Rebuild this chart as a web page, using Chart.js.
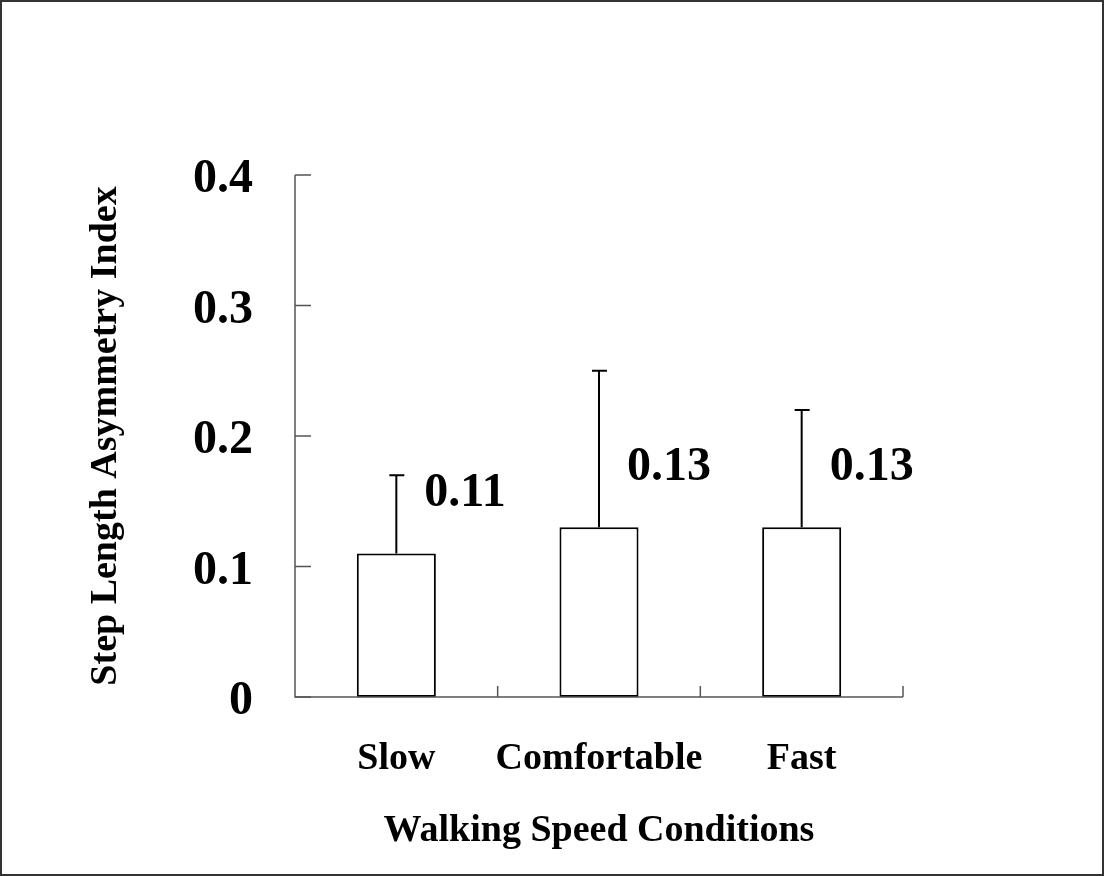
<!DOCTYPE html>
<html>
<head>
<meta charset="utf-8">
<script src="https://cdn.jsdelivr.net/npm/chart.js@4/dist/chart.umd.min.js"></script>
<style>
  html, body { margin: 0; padding: 0; background: #fff; }
  #c { display: block; }
</style>
</head>
<body>
<canvas id="c" width="1104" height="876"></canvas>
<script>
const categories = ['Slow', 'Comfortable', 'Fast'];
const meanValues = [0.11, 0.13, 0.13];
const errorTops = [0.17, 0.25, 0.22];
const yTickValues = [0, 0.1, 0.2, 0.3, 0.4];

const FONT = '"Liberation Serif", "Times New Roman", serif';

const decorPlugin = {
  id: 'decor',
  afterDatasetsDraw(chart) {
    const ctx = chart.ctx;
    const xs = chart.scales.x, ys = chart.scales.y;
    const area = chart.chartArea;
    const meta = chart.getDatasetMeta(0);
    ctx.save();
    // axes
    ctx.strokeStyle = '#555';
    ctx.lineWidth = 1.5;
    ctx.beginPath();
    ctx.moveTo(area.left, ys.getPixelForValue(0.4));
    ctx.lineTo(area.left, ys.getPixelForValue(0));
    ctx.lineTo(area.right, ys.getPixelForValue(0));
    ctx.stroke();
    // y ticks (inward)
    ctx.beginPath();
    yTickValues.forEach(v => {
      const y = ys.getPixelForValue(v);
      ctx.moveTo(area.left, y);
      ctx.lineTo(area.left + 16, y);
    });
    // x ticks (inward) at category boundaries
    const y0 = ys.getPixelForValue(0);
    for (let i = 0; i < categories.length; i++) {
      const x = (xs.getPixelForValue(i) + (i + 1 < categories.length ? xs.getPixelForValue(i + 1) : xs.getPixelForValue(i) * 2 - xs.getPixelForValue(i - 1))) / 2;
      ctx.moveTo(x, y0);
      ctx.lineTo(x, y0 - 11);
    }
    ctx.stroke();

    // error bars
    ctx.strokeStyle = '#000';
    ctx.lineWidth = 2;
    meta.data.forEach((bar, i) => {
      const x = bar.x;
      const yTop = ys.getPixelForValue(errorTops[i]);
      ctx.beginPath();
      ctx.moveTo(x, bar.y);
      ctx.lineTo(x, yTop);
      ctx.moveTo(x - 7, yTop);
      ctx.lineTo(x + 8, yTop);
      ctx.stroke();
    });

    // value labels
    ctx.fillStyle = '#000';
    ctx.font = 'bold 48px ' + FONT;
    ctx.textAlign = 'left';
    ctx.textBaseline = 'middle';
    meta.data.forEach((bar, i) => {
      ctx.fillText(meanValues[i].toFixed(2), bar.x + 28, bar.y - 60);
    });

    // outer frame
    ctx.strokeStyle = '#333';
    ctx.lineWidth = 2;
    ctx.strokeRect(1, 1, chart.width - 2, chart.height - 2);
    ctx.restore();
  }
};

new Chart(document.getElementById('c'), {
  type: 'bar',
  data: {
    labels: categories,
    datasets: [{
      data: meanValues,
      backgroundColor: '#ffffff',
      borderColor: '#000000',
      borderWidth: 2,
      borderSkipped: false,
      barPercentage: 0.39,
      categoryPercentage: 1.0
    }]
  },
  options: {
    responsive: false,
    animation: false,
    devicePixelRatio: 1,
    layout: { padding: { left: 0, top: 175, right: 201, bottom: 0 } },
    plugins: { legend: { display: false }, tooltip: { enabled: false } },
    scales: {
      x: {
        type: 'category',
        offset: true,
        grid: { display: false, drawTicks: false },
        border: { display: false },
        ticks: {
          color: '#000',
          padding: 39,
          autoSkip: false,
          maxRotation: 0,
          minRotation: 0,
          font: { family: FONT, size: 38, weight: 'bold' }
        },
        title: {
          display: true,
          text: 'Walking Speed Conditions',
          color: '#000',
          font: { family: FONT, size: 38, weight: 'bold' },
          padding: { top: 0, bottom: 22 }
        },
        afterFit(scale) { scale.height = 179; }
      },
      y: {
        min: 0,
        max: 0.4,
        grid: { display: false, drawTicks: false },
        border: { display: false },
        afterBuildTicks(scale) { scale.ticks = yTickValues.map(v => ({ value: v })); },
        ticks: {
          color: '#000',
          padding: 42,
          labelOffset: 5,
          font: { family: FONT, size: 48, weight: 'bold' },
          callback: v => (v === 0 ? '0' : v.toFixed(1))
        },
        title: {
          display: true,
          text: 'Step Length Asymmetry Index',
          color: '#000',
          font: { family: FONT, size: 38, weight: 'bold' },
          padding: { top: 83, bottom: 0 }
        },
        afterFit(scale) { scale.width = 295; }
      }
    }
  },
  plugins: [decorPlugin]
});
</script>
</body>
</html>
